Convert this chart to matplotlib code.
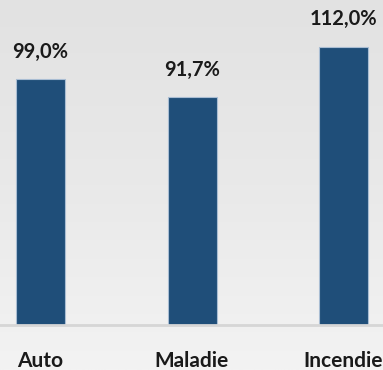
import matplotlib
matplotlib.use("Agg")
import matplotlib.pyplot as plt
import numpy as np
from matplotlib.colors import LinearSegmentedColormap

categories = ["Auto", "Maladie", "Incendie"]
values = [99.0, 91.7, 112.0]
labels = ["99,0%", "91,7%", "112,0%"]

W, H = 383, 370
fig = plt.figure(figsize=(W / 100, H / 100), dpi=100)

# gradient background
bg = fig.add_axes([0, 0, 1, 1], zorder=0)
grad = np.linspace(0, 1, 256).reshape(-1, 1)
cmap = LinearSegmentedColormap.from_list("bg", ["#e2e2e2", "#e9e9e9", "#f3f3f3"])
bg.imshow(grad, aspect="auto", cmap=cmap, extent=[0, 1, 0, 1], origin="upper")
bg.axis("off")

base_px = 325
ax = fig.add_axes([0, (H - base_px) / H, 1, base_px / H], zorder=1)
ax.patch.set_alpha(0)
x = np.arange(len(categories))
spacing = 151.5
ax.set_xlim(-40.5 / spacing, (W - 40.5) / spacing)
ax.set_ylim(0, base_px / 2.485)

ax.bar(x, values, width=49 / spacing, color="#1f4e79", edgecolor="#a9bdd3", linewidth=0.8)

for xi, v, lab in zip(x, values, labels):
    ax.annotate(lab, (xi, v), xytext=(0, 12.5), textcoords="offset points",
                ha="center", va="bottom", fontsize=14.5, fontweight="bold",
                family="Lato", color="#1a1a1a")

for s in ["top", "right", "left"]:
    ax.spines[s].set_visible(False)
ax.spines["bottom"].set_color("#d6d6d6")
ax.spines["bottom"].set_linewidth(2)
ax.set_yticks([])
ax.set_xticks(x)
ax.set_xticklabels(categories, fontsize=15, fontweight="bold", family="Lato", color="#1a1a1a")
ax.tick_params(axis="x", length=0, pad=19)

fig.savefig("out.png", dpi=100)
